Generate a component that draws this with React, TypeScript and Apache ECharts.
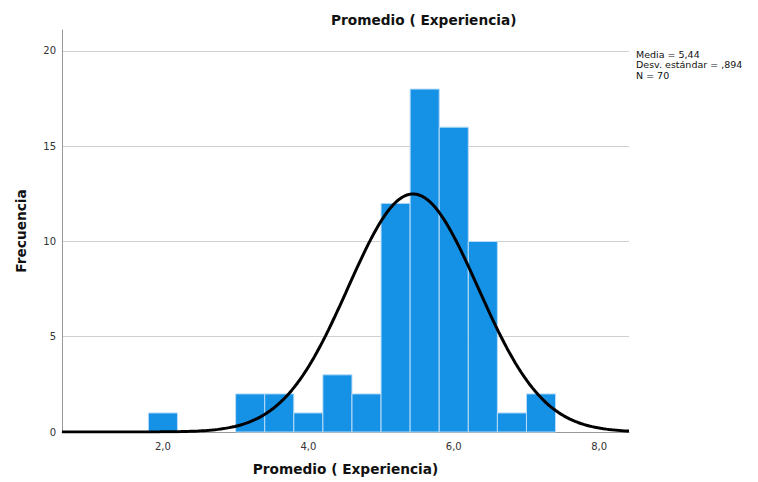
import React, { useEffect, useRef } from "react";
import * as echarts from "echarts";

const binCenters = [2.0, 3.2, 3.6, 4.0, 4.4, 4.8, 5.2, 5.6, 6.0, 6.4, 6.8, 7.2];
const frequencies = [1, 2, 2, 1, 3, 2, 12, 18, 16, 10, 1, 2];
const binWidth = 0.4;
const mean = 5.44;
const stdDev = 0.894;
const n = 70;
const xTickValues = [2, 4, 6, 8];
const statsLines = ["Media = 5,44", "Desv. estándar = ,894", "N = 70"];

const xMin = 0.612;
const xMax = 8.41;

function normalCurve() {
  const pts: number[][] = [];
  const steps = 200;
  for (let i = 0; i <= steps; i++) {
    const x = xMin + ((xMax - xMin) * i) / steps;
    const z = (x - mean) / stdDev;
    const y = (n * binWidth) / (stdDev * Math.sqrt(2 * Math.PI)) * Math.exp(-0.5 * z * z);
    pts.push([x, y]);
  }
  return pts;
}

const fmt = (v: number) => v.toFixed(1).replace(".", ",");

export default function App() {
  const ref = useRef<HTMLDivElement>(null);
  useEffect(() => {
    const chart = echarts.init(ref.current!, null, { renderer: "svg" });
    const font = "'DejaVu Sans', Verdana, sans-serif";
    const titleStyle = { fontSize: 13.7, fontWeight: "bold", color: "#111", fontFamily: font };
    chart.setOption({
      animation: false,
      textStyle: { fontFamily: font },
      title: {
        text: "Promedio ( Experiencia)",
        left: 326,
        top: 8,
        textStyle: titleStyle,
      },
      grid: { left: 62, right: 129, top: 30, bottom: 50 },
      xAxis: {
        type: "value",
        min: xMin,
        max: xMax,
        name: "Promedio ( Experiencia)",
        nameLocation: "middle",
        nameGap: 30,
        nameTextStyle: titleStyle,
        axisLine: { show: true, lineStyle: { color: "#999" } },
        axisTick: { show: false },
        splitLine: { show: false },
        axisLabel: {
          customValues: xTickValues,
          formatter: (v: number) => fmt(v),
          fontSize: 10,
          color: "#333",
          margin: 9,
        },
      },
      yAxis: {
        type: "value",
        min: 0,
        max: 21.1,
        interval: 5,
        name: "Frecuencia",
        nameLocation: "middle",
        nameGap: 34,
        nameTextStyle: titleStyle,
        axisLine: { show: true, lineStyle: { color: "#999" } },
        axisTick: { show: false },
        axisLabel: {
          fontSize: 10,
          color: "#333",
          margin: 6,
          showMaxLabel: false,
          formatter: (v: number) => (v % 5 === 0 ? String(v) : ""),
        },
        splitLine: { show: true, showMaxLine: false, lineStyle: { color: "#d0d0d0" } },
      },
      graphic: [
        {
          type: "text",
          left: 636,
          top: 49,
          style: {
            text: statsLines.join("\n"),
            fontSize: 9.5,
            lineHeight: 10.5,
            fill: "#111",
            fontFamily: font,
          },
        },
      ],
      series: [
        {
          type: "custom",
          data: binCenters.map((c, i) => [c, frequencies[i]]),
          renderItem: (params: any, api: any) => {
            const c = api.value(0);
            const f = api.value(1);
            const p0 = api.coord([c - binWidth / 2, f]);
            const p1 = api.coord([c + binWidth / 2, 0]);
            return {
              type: "rect",
              shape: { x: p0[0], y: p0[1], width: p1[0] - p0[0], height: p1[1] - p0[1] },
              style: { fill: "#1591e6", stroke: "#b9dcf7", lineWidth: 1 },
            };
          },
          z: 2,
        },
        {
          type: "line",
          data: normalCurve(),
          showSymbol: false,
          smooth: false,
          lineStyle: { color: "#000", width: 3 },
          z: 3,
        },
      ],
    });
    return () => chart.dispose();
  }, []);
  return (
    <div
      ref={ref}
      style={{ position: "absolute", left: 0, top: 0, width: 758, height: 482 }}
    />
  );
}
